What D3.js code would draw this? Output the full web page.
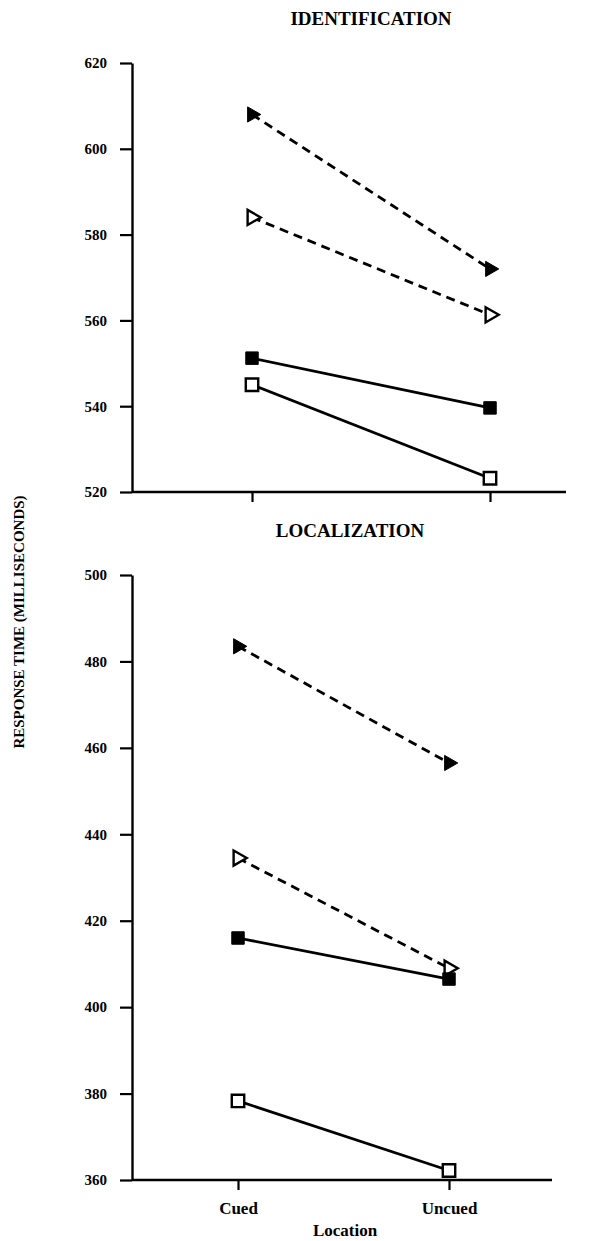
<!DOCTYPE html>
<html>
<head>
<meta charset="utf-8">
<script src="https://cdn.jsdelivr.net/npm/d3@7"></script>
<style>
  body { margin: 0; background: #fff; }
  text { font-family: "Liberation Serif", "Times New Roman", serif; font-weight: bold; fill: #000; }
</style>
</head>
<body>
<svg id="chart" width="616" height="1241"></svg>
<script>
// data
const locations = ["Cued", "Uncued"];

const idTicks = [520, 540, 560, 580, 600, 620];
const idFilledTri = [608, 572];
const idOpenTri = [584, 561.3];
const idFilledSq = [551.2, 539.6];
const idOpenSq = [545, 523.2];

const locTicks = [360, 380, 400, 420, 440, 460, 480, 500];
const locFilledTri = [483.5, 456.5];
const locOpenTri = [434.5, 409];
const locFilledSq = [416, 406.5];
const locOpenSq = [378.3, 362.2];

const svg = d3.select("#chart");
const axisX = 132;

// panel layouts
const panels = [
  {
    title: "IDENTIFICATION", titleX: 371, titleY: 25,
    ticks: idTicks, yTop: 63, yBottom: 492, xCued: 252, xUncued: 490, xEnd: 566,
    series: [
      { values: idFilledTri, shape: "tri", filled: true, dashed: true },
      { values: idOpenTri, shape: "tri", filled: false, dashed: true },
      { values: idFilledSq, shape: "sq", filled: true, dashed: false },
      { values: idOpenSq, shape: "sq", filled: false, dashed: false }
    ],
    showLabels: false
  },
  {
    title: "LOCALIZATION", titleX: 350, titleY: 537,
    ticks: locTicks, yTop: 575, yBottom: 1180, xCued: 238, xUncued: 449, xEnd: 552,
    series: [
      { values: locFilledTri, shape: "tri", filled: true, dashed: true },
      { values: locOpenTri, shape: "tri", filled: false, dashed: true },
      { values: locFilledSq, shape: "sq", filled: true, dashed: false },
      { values: locOpenSq, shape: "sq", filled: false, dashed: false }
    ],
    showLabels: true
  }
];

const triSym = d3.symbol().type(d3.symbolTriangle).size(100);
const sqSym = d3.symbol().type(d3.symbolSquare).size(155);

panels.forEach(p => {
  const g = svg.append("g");
  const y = d3.scaleLinear().domain(d3.extent(p.ticks)).range([p.yBottom, p.yTop]);
  const x = d3.scalePoint().domain(locations).range([p.xCued, p.xUncued]);

  // y axis
  g.append("g")
    .attr("transform", `translate(${axisX},0)`)
    .call(d3.axisLeft(y).tickValues(p.ticks).tickSize(12).tickSizeOuter(0).tickPadding(13))
    .call(a => a.select(".domain").attr("stroke-width", 2.4))
    .call(a => a.selectAll(".tick line").attr("stroke-width", 2.2))
    .call(a => a.selectAll(".tick text")
      .attr("font-size", 15)
      .attr("font-family", "Liberation Serif")
      .attr("font-weight", "bold"));

  // x axis line
  g.append("line")
    .attr("x1", axisX).attr("x2", p.xEnd)
    .attr("y1", p.yBottom).attr("y2", p.yBottom)
    .attr("stroke", "#000").attr("stroke-width", 2.4);

  // x ticks (labels only in lower panel)
  g.append("g")
    .attr("transform", `translate(0,${p.yBottom})`)
    .call(d3.axisBottom(x).tickSize(10).tickSizeOuter(0).tickPadding(12)
      .tickFormat(p.showLabels ? d => d : () => ""))
    .call(a => a.select(".domain").remove())
    .call(a => a.selectAll(".tick line").attr("stroke-width", 2.2))
    .call(a => a.selectAll(".tick text")
      .attr("font-size", 17)
      .attr("font-family", "Liberation Serif")
      .attr("font-weight", "bold"));

  // title
  g.append("text")
    .attr("x", p.titleX).attr("y", p.titleY)
    .attr("text-anchor", "middle")
    .attr("font-size", 19)
    .text(p.title);

  const line = d3.line().x((d, i) => x(locations[i])).y(d => y(d));

  // lines
  g.selectAll("path.series")
    .data(p.series)
    .join("path")
    .attr("class", "series")
    .attr("d", s => line(s.values))
    .attr("fill", "none")
    .attr("stroke", "#000")
    .attr("stroke-width", 2.8)
    .attr("stroke-dasharray", s => s.dashed ? "9,6" : null);

  // markers
  p.series.forEach(s => {
    g.selectAll(null)
      .data(s.values)
      .join("path")
      .attr("d", s.shape === "tri" ? triSym : sqSym)
      .attr("transform", (d, i) => {
        const rot = s.shape === "tri" ? " rotate(90)" : "";
        return `translate(${x(locations[i])},${y(d)})${rot}`;
      })
      .attr("fill", s.filled ? "#000" : "#fff")
      .attr("stroke", "#000")
      .attr("stroke-width", s.filled ? 1 : 2.4);
  });
});

// x axis title
svg.append("text")
  .attr("x", 345).attr("y", 1236)
  .attr("text-anchor", "middle")
  .attr("font-size", 17)
  .text("Location");

// y axis title
svg.append("text")
  .attr("transform", "translate(24,622) rotate(-90)")
  .attr("text-anchor", "middle")
  .attr("font-size", 15)
  .text("RESPONSE TIME (MILLISECONDS)");
</script>
</body>
</html>
